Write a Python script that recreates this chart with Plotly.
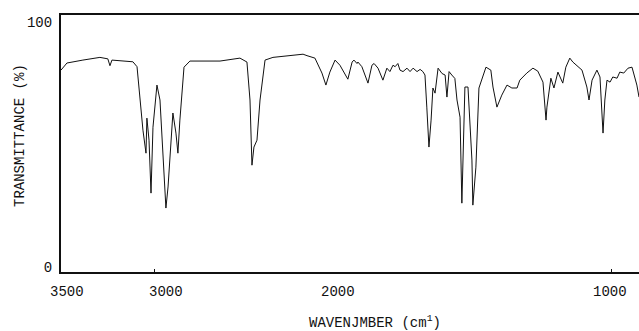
import plotly.graph_objects as go

# IR spectrum, high-wavenumber section (3618-2000 cm-1, compressed scale)
wn_high = [3618, 3579, 3474, 3362, 3310, 3296, 3283, 3145, 3118, 3099, 3079, 3059,
           3053, 3039, 3026, 3013, 3000, 2987, 2967, 2947, 2928, 2914, 2895, 2882,
           2862, 2849, 2836, 2822, 2809, 2770, 2572, 2441, 2395, 2375, 2362, 2349,
           2329, 2309, 2276, 2224, 2132, 2026, 2000]
tr_high = [80.4, 83.3, 84.5, 85.6, 85.0, 82.2, 84.5, 83.8, 81.8, 69.4, 55.9, 46.5,
           60.8, 51.8, 30.2, 57.1, 66.9, 74.3, 68.2, 43.7, 24.1, 32.7, 51.8, 62.9,
           54.7, 46.5, 60.0, 71.0, 81.6, 84.1, 84.1, 85.3, 83.7, 68.2, 41.6, 49.0,
           51.8, 68.2, 84.5, 85.6, 86.1, 86.9, 86.3]

# low-wavenumber section (2000-911 cm-1, expanded scale)
wn_low = [2000, 1974, 1951, 1938, 1925, 1908, 1892, 1866, 1852, 1846, 1836, 1833,
          1820, 1800, 1787, 1780, 1767, 1751, 1738, 1728, 1718, 1711, 1702, 1695,
          1685, 1672, 1662, 1652, 1639, 1629, 1620, 1613, 1607, 1600, 1593, 1587,
          1580, 1570, 1557, 1547, 1541, 1534, 1525, 1515, 1508, 1498, 1492, 1482,
          1472, 1469, 1459, 1456, 1446, 1436, 1423, 1413, 1397, 1390, 1377, 1361,
          1344, 1328, 1311, 1302, 1279, 1259, 1243, 1226, 1216, 1213, 1200, 1190,
          1177, 1161, 1151, 1138, 1128, 1115, 1098, 1082, 1075, 1065, 1049, 1039,
          1033, 1029, 1023, 1016, 1006, 997, 983, 974, 961, 947, 934, 931, 918, 911]
tr_low = [86.3, 85.3, 79.2, 74.3, 79.6, 84.5, 82.4, 76.7, 83.7, 84.5, 83.1, 83.7,
          81.8, 75.1, 82.4, 83.1, 81.2, 76.3, 81.2, 79.8, 82.4, 81.8, 83.1, 80.4,
          79.8, 81.2, 79.8, 81.2, 79.8, 80.7, 79.8, 78.4, 65.3, 49.0, 60.0, 73.1,
          71.0, 81.2, 79.0, 78.4, 69.4, 79.8, 78.4, 77.0, 68.2, 61.2, 26.1, 73.5,
          73.5, 66.9, 43.7, 25.3, 40.8, 73.1, 77.6, 81.6, 80.4, 73.5, 65.3, 70.2,
          74.3, 73.1, 73.1, 76.3, 79.2, 81.2, 80.0, 75.5, 60.0, 65.3, 77.1, 73.1,
          79.6, 75.1, 81.6, 85.3, 83.7, 82.4, 80.4, 73.5, 68.2, 76.3, 80.4, 77.6,
          64.1, 54.7, 68.2, 76.3, 75.5, 77.6, 77.1, 79.6, 79.2, 81.2, 81.6, 80.4,
          74.3, 69.4]

x_tick_labels = ["3500", "3000", "2000", "1000"]
y_tick_vals = [0, 100]

FONT = "Liberation Mono, Courier New, monospace"

W, H = 639, 331
ML, MR, MT, MB = 61, 0, 15, 59
PW = W - ML - MR
PH = H - MT - MB
split = (307 - ML) / PW

fig = go.Figure()
line = dict(color="#111111", width=1)
fig.add_trace(go.Scatter(x=wn_high, y=tr_high, mode="lines", line=line,
                         xaxis="x", yaxis="y", showlegend=False, hoverinfo="x+y"))
fig.add_trace(go.Scatter(x=wn_low, y=tr_low, mode="lines", line=line,
                         xaxis="x2", yaxis="y", showlegend=False, hoverinfo="x+y"))

axis_common = dict(showgrid=False, zeroline=False, showline=True, linecolor="#111111",
                   linewidth=2, mirror=True, ticks="inside", ticklen=3, tickwidth=1,
                   tickcolor="#111111", showticklabels=False)

fig.update_layout(
    width=W, height=H,
    margin=dict(l=ML, r=MR, t=MT, b=MB),
    paper_bgcolor="white", plot_bgcolor="white",
    font=dict(family=FONT, size=14, color="#111111"),
    xaxis=dict(domain=[0, split], range=[3618, 2000], tickvals=[3000], anchor="y",
               **axis_common),
    xaxis2=dict(domain=[split, 1], range=[2000, 911], tickvals=[2000, 1000], anchor="y",
                **axis_common),
    yaxis=dict(range=[-2.0, 102.9], tickvals=y_tick_vals, ticktext=["0", "100"],
               showgrid=False, zeroline=False, showline=True, linecolor="#111111",
               linewidth=2, ticks="", ticklabelstandoff=4,
               tickfont=dict(family=FONT, size=14, color="#111111")),
)

# x tick label texts placed as in the reference print
label_px = [67, 166, 338, 610]
for txt, px in zip(x_tick_labels, label_px):
    fig.add_annotation(text=txt, x=(px - ML) / PW, y=-(292 - (MT + PH)) / PH,
                       xref="paper", yref="paper", showarrow=False,
                       xanchor="center", yanchor="middle",
                       font=dict(family=FONT, size=14, color="#111111"))

fig.add_annotation(text="TRANSMITTANCE (%)", textangle=-90,
                   x=(20 - ML) / PW, y=((MT + PH) - 136) / PH,
                   xref="paper", yref="paper", showarrow=False,
                   xanchor="center", yanchor="middle",
                   font=dict(family=FONT, size=14, color="#111111"))
fig.add_annotation(text="WAVENJMBER (cm<sup>1</sup>)",
                   x=(375 - ML) / PW, y=-(322 - (MT + PH)) / PH,
                   xref="paper", yref="paper", showarrow=False,
                   xanchor="center", yanchor="middle",
                   font=dict(family=FONT, size=14, color="#111111"))

fig.write_html("out.html", config={"displayModeBar": False},
               post_script="document.body.style.margin='0';document.body.style.padding='0';")
